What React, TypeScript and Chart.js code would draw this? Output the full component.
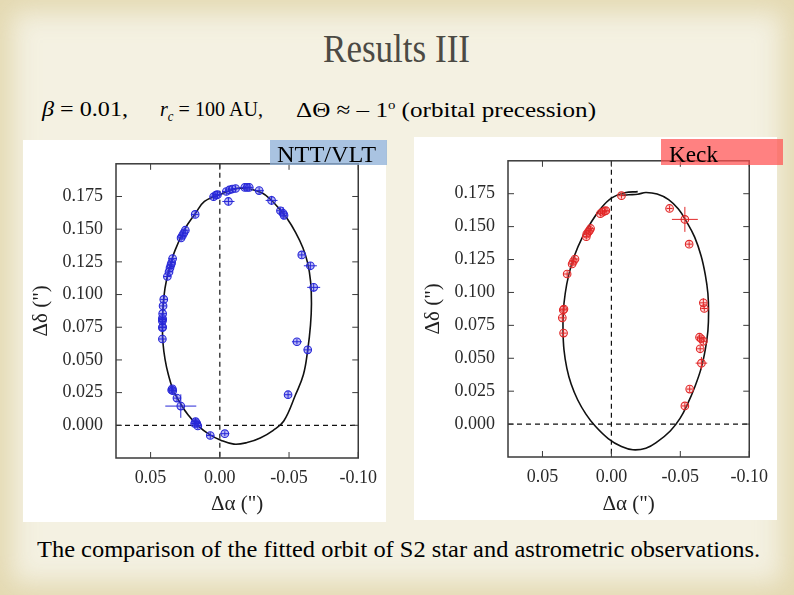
import React, { useEffect, useRef, useLayoutEffect } from 'react';
import { Chart, registerables } from 'chart.js';
Chart.register(...registerables);

const SERIF = '"Liberation Serif", "Times New Roman", serif';

// Axes
const X_TICKS = [0.05, 0, -0.05, -0.1];
const Y_TICKS = [0, 0.025, 0.05, 0.075, 0.1, 0.125, 0.15, 0.175];
const X_MIN = -0.1;
const X_MAX = 0.075;
const Y_MIN = -0.025;
const Y_MAX = 0.2;
const REF_X = 0;
const REF_Y = 0;

// NTT/VLT observations (Δα, Δδ in arcsec) and errors
const ntObsX = [0.0415, 0.0415, 0.0413, 0.0415, 0.0413, 0.0415, 0.0413, 0.041, 0.0405, 0.0379, 0.0367, 0.036, 0.0353, 0.0348, 0.0341, 0.028, 0.027, 0.026, 0.0249, 0.0178, 0.0045, 0.0028, 0.0017, -0.0047, -0.0069, -0.009, -0.0114, -0.018, -0.0197, -0.0213, -0.0062, -0.0284, -0.0374, -0.0438, -0.0457, -0.0464, -0.0592, -0.0654, -0.0678, -0.0557, -0.0635, -0.0493, 0.0348, 0.0343, 0.034, 0.031, 0.0282, 0.0175, 0.0166, 0.0159, 0.0182, 0.0069, -0.0036];
const ntObsY = [0.066, 0.0747, 0.0752, 0.0797, 0.0809, 0.0818, 0.0854, 0.0913, 0.0963, 0.1138, 0.1173, 0.1204, 0.1227, 0.1243, 0.1275, 0.1433, 0.1452, 0.1471, 0.1492, 0.1613, 0.1748, 0.176, 0.1764, 0.1788, 0.18, 0.1807, 0.1811, 0.1819, 0.1819, 0.1819, 0.1712, 0.1795, 0.172, 0.1641, 0.1622, 0.1606, 0.1303, 0.122, 0.1055, 0.0639, 0.0577, 0.0234, 0.027, 0.0279, 0.0265, 0.0208, 0.0147, 0.0028, 0.0014, -0.0005, 0.0014, -0.0078, -0.0064];
const ntErrX = [0.0025, 0.0025, 0.0025, 0.0025, 0.0025, 0.0025, 0.0025, 0.0025, 0.0025, 0.0025, 0.0025, 0.0025, 0.0025, 0.0025, 0.003, 0.0025, 0.0025, 0.0025, 0.0025, 0.0025, 0.0025, 0.0025, 0.0025, 0.0025, 0.0025, 0.0025, 0.0025, 0.0025, 0.0025, 0.0025, 0.0044, 0.0033, 0.0043, 0.0025, 0.0033, 0.0025, 0.0025, 0.0047, 0.0047, 0.0036, 0.0028, 0.0025, 0.002, 0.0025, 0.0025, 0.0028, 0.0112, 0.0033, 0.0025, 0.0025, 0.0025, 0.0025, 0.0033];
const ntErrY = [0.0025, 0.0025, 0.0025, 0.0025, 0.0025, 0.0025, 0.0025, 0.0025, 0.0025, 0.0025, 0.0025, 0.0025, 0.0025, 0.0025, 0.003, 0.0025, 0.0025, 0.0025, 0.0025, 0.0025, 0.0025, 0.0025, 0.0025, 0.0025, 0.0025, 0.0025, 0.0025, 0.0025, 0.0025, 0.0025, 0.003, 0.0024, 0.0035, 0.0025, 0.0047, 0.0025, 0.0025, 0.0028, 0.0033, 0.002, 0.0028, 0.0025, 0.0024, 0.0025, 0.0025, 0.0028, 0.009, 0.0028, 0.0025, 0.0025, 0.0025, 0.0025, 0.0019];
// NTT/VLT fitted orbit
const ntOrbitX = [-0.022, -0.0126, 0.0, 0.0111, 0.0178, 0.0254, 0.0325, 0.0367, 0.0396, 0.041, 0.0415, 0.041, 0.0396, 0.0372, 0.0337, 0.0289, 0.023, 0.0159, 0.0076, -0.0007, -0.0102, -0.0197, -0.0292, -0.0386, -0.0462, -0.0547, -0.0604, -0.0635, -0.0655, -0.0662, -0.0656, -0.0635, -0.06, -0.0547, -0.0486, -0.0422, -0.0363, -0.0303, -0.022];
const ntOrbitY = [0.1807, 0.1812, 0.1764, 0.1712, 0.1618, 0.1499, 0.1334, 0.1192, 0.105, 0.0908, 0.0766, 0.0624, 0.0506, 0.0388, 0.027, 0.0175, 0.008, -0.0002, -0.0069, -0.0114, -0.0144, -0.0132, -0.0097, -0.0038, 0.0033, 0.0234, 0.0388, 0.0577, 0.0766, 0.0932, 0.1097, 0.1239, 0.1358, 0.1476, 0.1582, 0.1665, 0.1731, 0.1778, 0.1807];

// Keck observations and errors
const keckObsX = [-0.0073, -0.0422, -0.0533, -0.0564, 0.008, 0.0064, 0.005, 0.004, 0.0151, 0.0158, 0.0167, 0.0179, 0.0182, 0.0264, 0.0276, 0.0285, 0.0321, 0.0344, 0.0349, 0.0356, 0.0347, -0.0667, -0.0674, -0.0639, -0.0651, -0.0667, -0.0644, -0.0653, -0.0568, -0.0533];
const keckObsY = [0.1735, 0.1638, 0.1555, 0.1367, 0.1598, 0.161, 0.1617, 0.1621, 0.1486, 0.1472, 0.146, 0.1443, 0.1424, 0.1254, 0.1235, 0.1216, 0.114, 0.0874, 0.0867, 0.0807, 0.0691, 0.0921, 0.0878, 0.066, 0.0648, 0.0629, 0.0572, 0.0463, 0.0266, 0.0138];
const keckErrX = [0.0022, 0.0022, 0.0094, 0.0022, 0.0022, 0.0022, 0.0022, 0.0022, 0.0022, 0.0022, 0.0022, 0.0022, 0.0022, 0.0022, 0.0022, 0.0022, 0.0022, 0.0022, 0.0022, 0.0022, 0.0022, 0.0025, 0.0022, 0.0022, 0.0022, 0.0022, 0.0022, 0.0042, 0.0022, 0.0022];
const keckErrY = [0.0022, 0.0022, 0.0095, 0.0022, 0.0022, 0.0022, 0.0022, 0.0022, 0.0022, 0.0022, 0.0022, 0.0022, 0.0022, 0.0022, 0.0022, 0.0022, 0.0022, 0.0022, 0.0022, 0.0022, 0.0022, 0.0035, 0.0022, 0.0022, 0.0022, 0.0022, 0.0022, 0.0047, 0.0022, 0.0022];
// Keck fitted orbit (open at the top: orbital precession)
const keckOrbitX = [-0.0191, -0.0097, 0.0, 0.008, 0.0151, 0.021, 0.0269, 0.0309, 0.0335, 0.0349, 0.0351, 0.0344, 0.0323, 0.0292, 0.0245, 0.0186, 0.0116, 0.0021, -0.0073, -0.0156, -0.025, -0.0332, -0.0427, -0.0498, -0.0556, -0.0604, -0.0651, -0.0681, -0.07, -0.0705, -0.07, -0.0681, -0.0651, -0.0604, -0.0545, -0.0486, -0.0415, -0.0332, -0.025, -0.0191, -0.0125, -0.0075];
const keckOrbitY = [0.1766, 0.1757, 0.1716, 0.1633, 0.1526, 0.142, 0.1277, 0.1135, 0.0992, 0.085, 0.0707, 0.0565, 0.0423, 0.0304, 0.0185, 0.0078, -0.0017, -0.0112, -0.0171, -0.0195, -0.0183, -0.0135, -0.0052, 0.0043, 0.0161, 0.028, 0.0423, 0.0565, 0.0707, 0.085, 0.0992, 0.1135, 0.1277, 0.142, 0.1538, 0.1633, 0.1705, 0.1747, 0.1759, 0.1746, 0.1742, 0.1738];

const zip = (xs: number[], ys: number[]) => xs.map((x, i) => ({ x, y: ys[i] }));

const framePlugin = {
  id: 'frameTicks',
  beforeDatasetsDraw(chart: any) {
    const { ctx, chartArea: a, scales } = chart;
    const x0 = scales.x.getPixelForValue(REF_X);
    const y0 = scales.y.getPixelForValue(REF_Y);
    ctx.save();
    ctx.beginPath();
    ctx.rect(a.left, a.top, a.right - a.left, a.bottom - a.top);
    ctx.clip();
    ctx.setLineDash([5, 4]);
    ctx.strokeStyle = '#111';
    ctx.lineWidth = 1.2;
    ctx.beginPath();
    ctx.moveTo(x0, a.top);
    ctx.lineTo(x0, a.bottom);
    ctx.moveTo(a.left, y0);
    ctx.lineTo(a.right, y0);
    ctx.stroke();
    ctx.restore();
  },
  afterDatasetsDraw(chart: any) {
    const { ctx, scales } = chart;
    const sx = scales.x, sy = scales.y;
    chart.data.datasets.forEach((ds: any) => {
      if (!ds.errX) return;
      ctx.save();
      ctx.strokeStyle = ds.barColor;
      ctx.lineWidth = 1;
      ds.data.forEach((p: any, i: number) => {
        const px = sx.getPixelForValue(p.x);
        const py = sy.getPixelForValue(p.y);
        const x1 = sx.getPixelForValue(p.x - ds.errX[i]);
        const x2 = sx.getPixelForValue(p.x + ds.errX[i]);
        const y1 = sy.getPixelForValue(p.y - ds.errY[i]);
        const y2 = sy.getPixelForValue(p.y + ds.errY[i]);
        ctx.beginPath();
        ctx.moveTo(x1, py);
        ctx.lineTo(x2, py);
        ctx.moveTo(px, y1);
        ctx.lineTo(px, y2);
        ctx.stroke();
      });
      ctx.restore();
    });
  },
  afterDraw(chart: any) {
    const { ctx, chartArea: a, scales } = chart;
    ctx.save();
    ctx.strokeStyle = '#3a3a3a';
    ctx.lineWidth = 1.5;
    ctx.strokeRect(a.left, a.top, a.right - a.left, a.bottom - a.top);
    ctx.lineWidth = 1;
    ctx.beginPath();
    Y_TICKS.forEach((v) => {
      const py = scales.y.getPixelForValue(v);
      ctx.moveTo(a.left, py);
      ctx.lineTo(a.left + 6, py);
      ctx.moveTo(a.right, py);
      ctx.lineTo(a.right - 6, py);
    });
    X_TICKS.forEach((v) => {
      const px = scales.x.getPixelForValue(v);
      ctx.moveTo(px, a.bottom);
      ctx.lineTo(px, a.bottom - 6);
      ctx.moveTo(px, a.top);
      ctx.lineTo(px, a.top + 6);
    });
    ctx.stroke();
    ctx.restore();
  },
};

type ChartProps = {
  left: number; top: number; width: number; height: number;
  obsX: number[]; obsY: number[]; errX: number[]; errY: number[];
  orbitX: number[]; orbitY: number[];
  color: string; fill: string;
  yAxisW: number; xAxisH: number; padTop: number; padRight: number;
  yTickPad: number; xTickPad: number; yTitlePad: number; xTitlePad: number;
};

function OrbitChart(p: ChartProps) {
  const ref = useRef<HTMLCanvasElement>(null);
  useEffect(() => {
    if (!ref.current) return;
    const chart = new Chart(ref.current, {
      type: 'scatter',
      data: {
        datasets: [
          {
            data: zip(p.obsX, p.obsY),
            errX: p.errX,
            errY: p.errY,
            barColor: p.color,
            pointRadius: 3.8,
            pointBorderWidth: 1.1,
            pointBorderColor: p.color,
            pointBackgroundColor: p.fill,
            showLine: false,
            order: 0,
          } as any,
          {
            data: zip(p.orbitX, p.orbitY),
            showLine: true,
            borderColor: '#111',
            borderWidth: 1.6,
            pointRadius: 0,
            tension: 0.4,
            fill: false,
            order: 1,
          } as any,
        ],
      },
      options: {
        responsive: false,
        animation: false,
        events: [],
        layout: { padding: { top: p.padTop, right: p.padRight, left: 0, bottom: 0 } },
        plugins: { legend: { display: false }, tooltip: { enabled: false } },
        scales: {
          x: {
            type: 'linear',
            reverse: true,
            min: X_MIN,
            max: X_MAX,
            afterBuildTicks: (s: any) => { s.ticks = X_TICKS.map((v) => ({ value: v })); },
            afterFit: (s: any) => { s.height = p.xAxisH; },
            grid: { display: false, drawTicks: false },
            border: { display: false },
            ticks: {
              autoSkip: false,
              maxRotation: 0,
              padding: p.xTickPad,
              color: '#2a2a2a',
              font: { family: SERIF, size: 18 },
              callback: (v: any) => Number(v).toFixed(2),
            },
            title: {
              display: true,
              text: 'Δα (")',
              color: '#222',
              font: { family: SERIF, size: 21 },
              padding: { top: 0, bottom: p.xTitlePad },
            },
          },
          y: {
            type: 'linear',
            min: Y_MIN,
            max: Y_MAX,
            afterBuildTicks: (s: any) => { s.ticks = Y_TICKS.map((v) => ({ value: v })); },
            afterFit: (s: any) => { s.width = p.yAxisW; },
            grid: { display: false, drawTicks: false },
            border: { display: false },
            ticks: {
              autoSkip: false,
              padding: p.yTickPad,
              color: '#2a2a2a',
              font: { family: SERIF, size: 18 },
              callback: (v: any) => Number(v).toFixed(3),
            },
            title: {
              display: true,
              text: 'Δδ (")',
              color: '#222',
              font: { family: SERIF, size: 21 },
              padding: { top: p.yTitlePad, bottom: 0 },
            },
          },
        },
      } as any,
      plugins: [framePlugin as any],
    });
    return () => chart.destroy();
  }, []);
  return (
    <canvas
      ref={ref}
      width={p.width}
      height={p.height}
      style={{ position: 'absolute', left: p.left, top: p.top, width: p.width, height: p.height, background: '#fff' }}
    />
  );
}

function FitText(props: { left: number; top: number; width: number; size: number; color?: string; children: any }) {
  const ref = useRef<HTMLDivElement>(null);
  useLayoutEffect(() => {
    const el = ref.current;
    if (!el) return;
    el.style.transform = 'none';
    const w = el.getBoundingClientRect().width;
    if (w > 0) el.style.transform = `scaleX(${props.width / w})`;
  }, [props.width]);
  return (
    <div
      ref={ref}
      style={{
        position: 'absolute',
        left: props.left,
        top: props.top,
        whiteSpace: 'nowrap',
        display: 'inline-block',
        transformOrigin: 'left top',
        fontFamily: SERIF,
        fontSize: props.size,
        lineHeight: 1,
        color: props.color || '#000',
      }}
    >
      {props.children}
    </div>
  );
}

export default function App() {
  return (
    <div
      style={{
        position: 'fixed',
        left: 0,
        top: 0,
        width: 794,
        height: 595,
        overflow: 'hidden',
        background: '#f4f1e2',
        boxShadow: 'inset 0 0 26px 12px rgba(222,208,160,0.75)',
      }}
    >
      <FitText left={323} top={29} width={147} size={40} color="#4c4a44">Results III</FitText>
      <FitText left={42} top={98} width={86} size={22}>
        <i>β</i> = 0.01,
      </FitText>
      <FitText left={160} top={98} width={103} size={22}>
        <i>r</i><sub style={{ fontSize: 14 }}><i>c</i></sub> = 100 AU,
      </FitText>
      <FitText left={296} top={98} width={300} size={22}>
        ΔΘ ≈ – 1<sup style={{ fontSize: 13 }}>o</sup> (orbital precession)
      </FitText>

      <OrbitChart
        left={23} top={140} width={363} height={382}
        obsX={ntObsX} obsY={ntObsY} errX={ntErrX} errY={ntErrY}
        orbitX={ntOrbitX} orbitY={ntOrbitY}
        color="rgb(40,40,215)" fill="rgba(80,80,235,0.4)"
        yAxisW={93} xAxisH={64} padTop={1} padRight={23}
        yTickPad={13} xTickPad={9} yTitlePad={6} xTitlePad={5}
      />
      <OrbitChart
        left={414} top={137} width={363} height={383}
        obsX={keckObsX} obsY={keckObsY} errX={keckErrX} errY={keckErrY}
        orbitX={keckOrbitX} orbitY={keckOrbitY}
        color="rgb(225,40,40)" fill="rgba(255,110,110,0.25)"
        yAxisW={94} xAxisH={63} padTop={3} padRight={23}
        yTickPad={13} xTickPad={9} yTitlePad={7} xTitlePad={3}
      />

      <div style={{ position: 'absolute', left: 270, top: 140, width: 117, height: 25, background: 'rgba(140,175,215,0.75)' }} />
      <FitText left={277} top={143} width={99} size={23}>NTT/VLT</FitText>
      <div style={{ position: 'absolute', left: 661, top: 139, width: 122, height: 26, background: 'rgba(255,80,80,0.72)' }} />
      <FitText left={669} top={143} width={49} size={23}>Keck</FitText>

      <FitText left={37} top={537} width={723} size={24}>
        The comparison of the fitted orbit of S2 star and astrometric observations.
      </FitText>
    </div>
  );
}
